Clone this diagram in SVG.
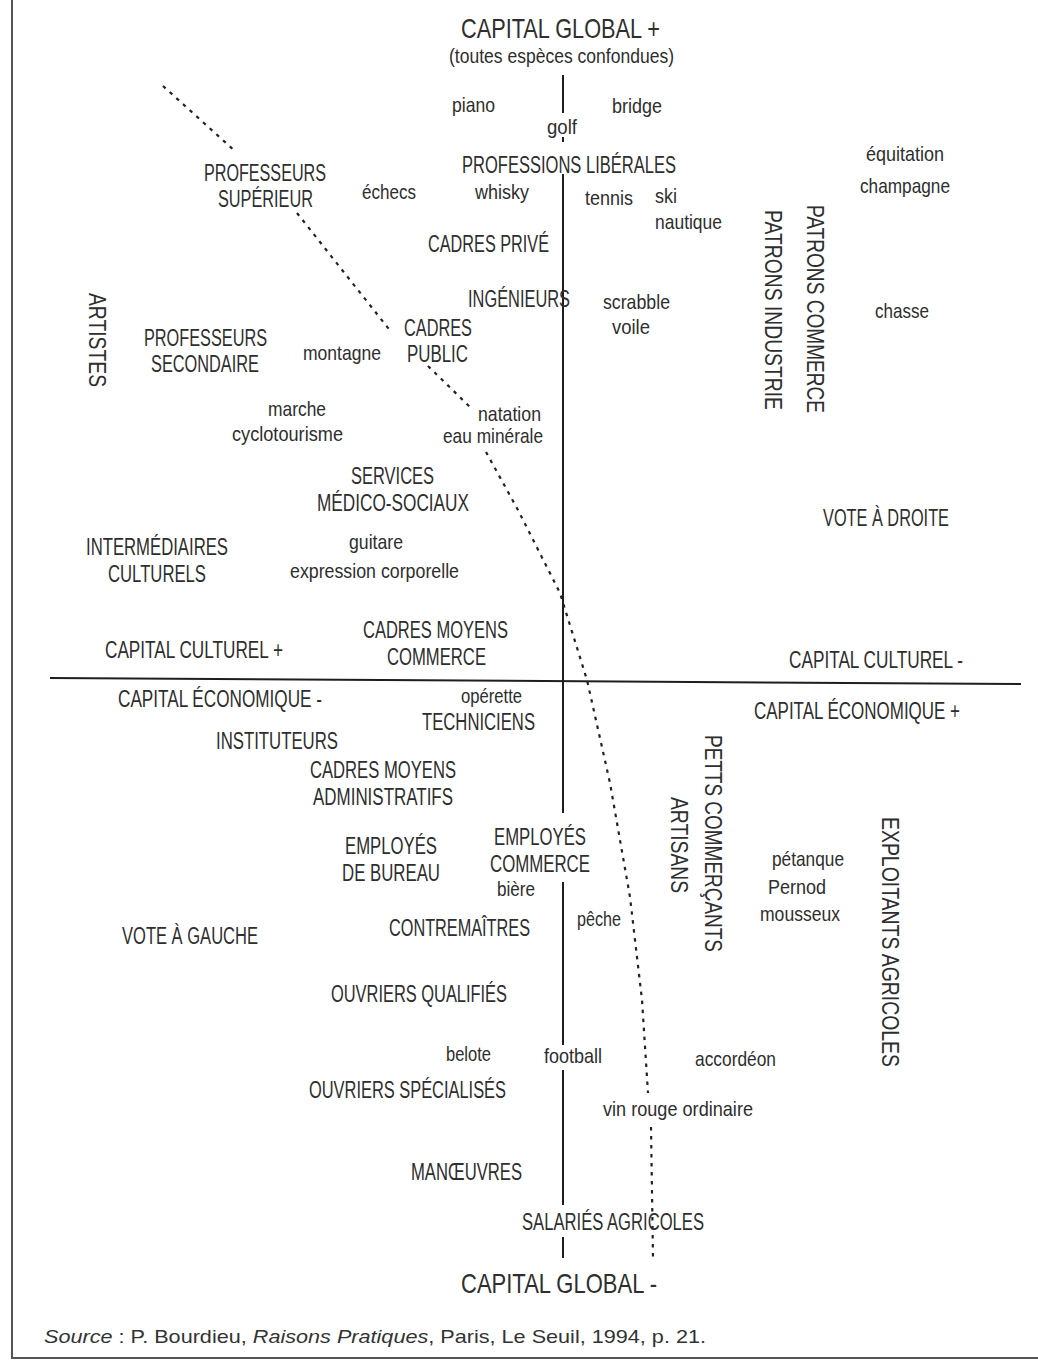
<svg xmlns="http://www.w3.org/2000/svg" width="1038" height="1361" viewBox="0 0 1038 1361">
  <style>
    .t { font-family: "Liberation Sans", Arial, sans-serif; font-size: 23px; fill: #2e2e2e; }
    .l { font-size: 21px; }
    .big { font-size: 28px; }
    .src { font-family: "Liberation Sans", Arial, sans-serif; font-size: 19px; fill: #333; }
    .axis { stroke: #1e1e1e; stroke-width: 2; fill: none; }
    .frame { stroke: #555; stroke-width: 2; fill: none; }
    .div { stroke: #222; stroke-width: 2.2; fill: none; stroke-dasharray: 3.5 5.5; stroke-linecap: butt; stroke-linejoin: round; }
  </style>

  <rect width="1038" height="1361" fill="#ffffff"/>

  <!-- page frame -->
  <path class="frame" d="M12,0 V1358 H1038"/>

  <!-- axes and the dividing curve -->
  <g id="connectors">
    <path class="axis" d="M563,75 V113 M563,137 V142 M563,174 V813 M563,882 V1045 M563,1070 V1205 M563,1237 V1258"/>
    <path class="axis" d="M50,678 L1021,684"/>
    <path class="div" d="M163,86 L236,152 M297,213 L392,333 M428,366 L470,407 M486,452 L518,510 L560,593 L587,680 L610,783 L630,897 L642,1000 L648,1093 M651,1127 L653,1257"/>
  </g>

  <!-- axis labels -->
  <g id="global-plus">
    <text class="t big" x="461" y="38" textLength="199" lengthAdjust="spacingAndGlyphs">CAPITAL GLOBAL +</text>
    <text class="t l" x="449" y="63" textLength="225" lengthAdjust="spacingAndGlyphs">(toutes espèces confondues)</text>
  </g>
  <g id="global-minus"><text class="t big" x="461" y="1293" textLength="196" lengthAdjust="spacingAndGlyphs">CAPITAL GLOBAL -</text></g>
  <g id="culturel-plus"><text class="t" x="105" y="658" textLength="178" lengthAdjust="spacingAndGlyphs">CAPITAL CULTUREL +</text></g>
  <g id="culturel-minus"><text class="t" x="789" y="668" textLength="174" lengthAdjust="spacingAndGlyphs">CAPITAL CULTUREL -</text></g>
  <g id="economique-minus"><text class="t" x="118" y="707" textLength="204" lengthAdjust="spacingAndGlyphs">CAPITAL ÉCONOMIQUE -</text></g>
  <g id="economique-plus"><text class="t" x="754" y="719" textLength="206" lengthAdjust="spacingAndGlyphs">CAPITAL ÉCONOMIQUE +</text></g>

  <!-- occupations -->
  <g id="professions-liberales"><text class="t" x="462" y="173" textLength="214" lengthAdjust="spacingAndGlyphs">PROFESSIONS LIBÉRALES</text></g>
  <g id="professeurs-superieur">
    <text class="t" x="204" y="181" textLength="122" lengthAdjust="spacingAndGlyphs">PROFESSEURS</text>
    <text class="t" x="218" y="207" textLength="95" lengthAdjust="spacingAndGlyphs">SUPÉRIEUR</text>
  </g>
  <g id="cadres-prive"><text class="t" x="428" y="252" textLength="121" lengthAdjust="spacingAndGlyphs">CADRES PRIVÉ</text></g>
  <g id="ingenieurs"><text class="t" x="468" y="307" textLength="102" lengthAdjust="spacingAndGlyphs">INGÉNIEURS</text></g>
  <g id="patrons-industrie"><text class="t" transform="translate(765,210) rotate(90)" textLength="200" lengthAdjust="spacingAndGlyphs">PATRONS INDUSTRIE</text></g>
  <g id="patrons-commerce"><text class="t" transform="translate(807,205) rotate(90)" textLength="208" lengthAdjust="spacingAndGlyphs">PATRONS COMMERCE</text></g>
  <g id="artistes"><text class="t" transform="translate(89,293) rotate(90)" textLength="94" lengthAdjust="spacingAndGlyphs">ARTISTES</text></g>
  <g id="professeurs-secondaire">
    <text class="t" x="144" y="346" textLength="123" lengthAdjust="spacingAndGlyphs">PROFESSEURS</text>
    <text class="t" x="151" y="372" textLength="108" lengthAdjust="spacingAndGlyphs">SECONDAIRE</text>
  </g>
  <g id="cadres-public">
    <text class="t" x="404" y="336" textLength="68" lengthAdjust="spacingAndGlyphs">CADRES</text>
    <text class="t" x="407" y="362" textLength="61" lengthAdjust="spacingAndGlyphs">PUBLIC</text>
  </g>
  <g id="services-medico-sociaux">
    <text class="t" x="351" y="484" textLength="83" lengthAdjust="spacingAndGlyphs">SERVICES</text>
    <text class="t" x="317" y="511" textLength="152" lengthAdjust="spacingAndGlyphs">MÉDICO-SOCIAUX</text>
  </g>
  <g id="intermediaires-culturels">
    <text class="t" x="86" y="555" textLength="142" lengthAdjust="spacingAndGlyphs">INTERMÉDIAIRES</text>
    <text class="t" x="108" y="582" textLength="98" lengthAdjust="spacingAndGlyphs">CULTURELS</text>
  </g>
  <g id="cadres-moyens-commerce">
    <text class="t" x="363" y="638" textLength="145" lengthAdjust="spacingAndGlyphs">CADRES MOYENS</text>
    <text class="t" x="387" y="665" textLength="99" lengthAdjust="spacingAndGlyphs">COMMERCE</text>
  </g>
  <g id="vote-droite"><text class="t" x="823" y="526" textLength="126" lengthAdjust="spacingAndGlyphs">VOTE À DROITE</text></g>
  <g id="techniciens"><text class="t" x="422" y="730" textLength="113" lengthAdjust="spacingAndGlyphs">TECHNICIENS</text></g>
  <g id="instituteurs"><text class="t" x="216" y="749" textLength="122" lengthAdjust="spacingAndGlyphs">INSTITUTEURS</text></g>
  <g id="cadres-moyens-administratifs">
    <text class="t" x="310" y="778" textLength="146" lengthAdjust="spacingAndGlyphs">CADRES MOYENS</text>
    <text class="t" x="313" y="805" textLength="140" lengthAdjust="spacingAndGlyphs">ADMINISTRATIFS</text>
  </g>
  <g id="petits-commercants"><text class="t" transform="translate(705,735) rotate(90)" textLength="217" lengthAdjust="spacingAndGlyphs">PETTS COMMERÇANTS</text></g>
  <g id="artisans"><text class="t" transform="translate(671,797) rotate(90)" textLength="96" lengthAdjust="spacingAndGlyphs">ARTISANS</text></g>
  <g id="employes-bureau">
    <text class="t" x="345" y="854" textLength="92" lengthAdjust="spacingAndGlyphs">EMPLOYÉS</text>
    <text class="t" x="342" y="881" textLength="98" lengthAdjust="spacingAndGlyphs">DE BUREAU</text>
  </g>
  <g id="employes-commerce">
    <text class="t" x="494" y="845" textLength="92" lengthAdjust="spacingAndGlyphs">EMPLOYÉS</text>
    <text class="t" x="490" y="872" textLength="100" lengthAdjust="spacingAndGlyphs">COMMERCE</text>
  </g>
  <g id="exploitants-agricoles"><text class="t" transform="translate(882,817) rotate(90)" textLength="250" lengthAdjust="spacingAndGlyphs">EXPLOITANTS AGRICOLES</text></g>
  <g id="vote-gauche"><text class="t" x="122" y="944" textLength="136" lengthAdjust="spacingAndGlyphs">VOTE À GAUCHE</text></g>
  <g id="contremaitres"><text class="t" x="389" y="936" textLength="141" lengthAdjust="spacingAndGlyphs">CONTREMAÎTRES</text></g>
  <g id="ouvriers-qualifies"><text class="t" x="331" y="1002" textLength="176" lengthAdjust="spacingAndGlyphs">OUVRIERS QUALIFIÉS</text></g>
  <g id="ouvriers-specialises"><text class="t" x="309" y="1098" textLength="197" lengthAdjust="spacingAndGlyphs">OUVRIERS SPÉCIALISÉS</text></g>
  <g id="manoeuvres"><text class="t" x="411" y="1180" textLength="111" lengthAdjust="spacingAndGlyphs">MANŒUVRES</text></g>
  <g id="salaries-agricoles"><text class="t" x="522" y="1230" textLength="182" lengthAdjust="spacingAndGlyphs">SALARIÉS AGRICOLES</text></g>

  <!-- practices and tastes -->
  <g id="pratiques">
    <text class="t l" x="452" y="112" textLength="43" lengthAdjust="spacingAndGlyphs">piano</text>
    <text class="t l" x="612" y="113" textLength="50" lengthAdjust="spacingAndGlyphs">bridge</text>
    <text class="t l" x="547" y="134" textLength="30" lengthAdjust="spacingAndGlyphs">golf</text>
    <text class="t l" x="866" y="161" textLength="78" lengthAdjust="spacingAndGlyphs">équitation</text>
    <text class="t l" x="860" y="193" textLength="90" lengthAdjust="spacingAndGlyphs">champagne</text>
    <text class="t l" x="362" y="199" textLength="54" lengthAdjust="spacingAndGlyphs">échecs</text>
    <text class="t l" x="475" y="199" textLength="54" lengthAdjust="spacingAndGlyphs">whisky</text>
    <text class="t l" x="585" y="205" textLength="48" lengthAdjust="spacingAndGlyphs">tennis</text>
    <text class="t l" x="655" y="203" textLength="22" lengthAdjust="spacingAndGlyphs">ski</text>
    <text class="t l" x="655" y="229" textLength="67" lengthAdjust="spacingAndGlyphs">nautique</text>
    <text class="t l" x="603" y="309" textLength="67" lengthAdjust="spacingAndGlyphs">scrabble</text>
    <text class="t l" x="612" y="334" textLength="38" lengthAdjust="spacingAndGlyphs">voile</text>
    <text class="t l" x="875" y="318" textLength="54" lengthAdjust="spacingAndGlyphs">chasse</text>
    <text class="t l" x="303" y="360" textLength="78" lengthAdjust="spacingAndGlyphs">montagne</text>
    <text class="t l" x="268" y="416" textLength="58" lengthAdjust="spacingAndGlyphs">marche</text>
    <text class="t l" x="232" y="441" textLength="111" lengthAdjust="spacingAndGlyphs">cyclotourisme</text>
    <text class="t l" x="478" y="421" textLength="63" lengthAdjust="spacingAndGlyphs">natation</text>
    <text class="t l" x="443" y="443" textLength="100" lengthAdjust="spacingAndGlyphs">eau minérale</text>
    <text class="t l" x="349" y="549" textLength="54" lengthAdjust="spacingAndGlyphs">guitare</text>
    <text class="t l" x="290" y="578" textLength="169" lengthAdjust="spacingAndGlyphs">expression corporelle</text>
    <text class="t l" x="461" y="703" textLength="61" lengthAdjust="spacingAndGlyphs">opérette</text>
    <text class="t l" x="497" y="896" textLength="38" lengthAdjust="spacingAndGlyphs">bière</text>
    <text class="t l" x="772" y="866" textLength="72" lengthAdjust="spacingAndGlyphs">pétanque</text>
    <text class="t l" x="768" y="894" textLength="58" lengthAdjust="spacingAndGlyphs">Pernod</text>
    <text class="t l" x="760" y="921" textLength="80" lengthAdjust="spacingAndGlyphs">mousseux</text>
    <text class="t l" x="577" y="926" textLength="44" lengthAdjust="spacingAndGlyphs">pêche</text>
    <text class="t l" x="446" y="1061" textLength="45" lengthAdjust="spacingAndGlyphs">belote</text>
    <text class="t l" x="544" y="1063" textLength="58" lengthAdjust="spacingAndGlyphs">football</text>
    <text class="t l" x="695" y="1066" textLength="81" lengthAdjust="spacingAndGlyphs">accordéon</text>
    <text class="t l" x="603" y="1116" textLength="150" lengthAdjust="spacingAndGlyphs">vin rouge ordinaire</text>
  </g>

  <!-- source line -->
  <g id="source">
    <text class="src" x="44" y="1343" textLength="662" lengthAdjust="spacingAndGlyphs"><tspan font-style="italic">Source</tspan> : P. Bourdieu, <tspan font-style="italic">Raisons Pratiques</tspan>, Paris, Le Seuil, 1994, p. 21.</text>
  </g>
</svg>
